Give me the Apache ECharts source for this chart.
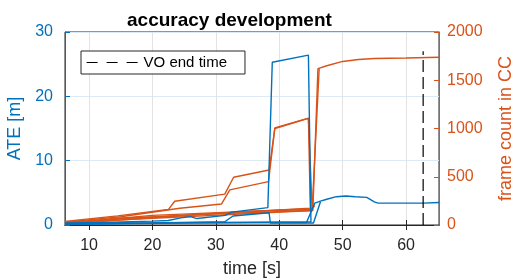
<!DOCTYPE html>
<html>
<head>
<meta charset="utf-8">
<title>accuracy development</title>
<script src="https://cdn.jsdelivr.net/npm/echarts@6/dist/echarts.min.js"></script>
<style>
  html, body { margin: 0; padding: 0; background: #fff; }
  #chart { width: 516px; height: 278px; }
</style>
</head>
<body>
<div id="chart"></div>
<script>
// time axis ticks
var timeTicks = [10, 20, 30, 40, 50, 60];
var voEndTime = 62.7;
var voLine = [[voEndTime, 0], [voEndTime, 1800]];

// ATE [m], several runs (data is unsorted, so lines jump back to the start)
var ateRunA = [[6.2,0.3],[12,0.4],[20,0.6],[22.5,0.7],[24.5,1.1],[26,1.3],[27,1.0],[31.5,1.5],[32.5,2.0],[38.2,2.7],[38.9,25.3],[44.6,26.4],[45.0,0.5],[6.2,0.2]];
var ateRunB = [[6.2,0.1],[25,0.3],[44.3,0.4],[45.6,3.4],[46.5,3.7],[47.5,4.0],[49,4.4],[50.5,4.5],[52,4.4],[53.8,4.3],[55,3.6],[55.6,3.4],[62.7,3.4],[65.2,3.5]];
var ateRunC = [[6.2,0.1],[31.4,0.5],[32.7,1.4],[38.4,1.9],[38.6,0.3],[45.4,0.3],[46.5,3.6]];

// frame count in CC, several runs
var frameRunA = [[6.2,38],[14.5,95],[22.5,160],[23.5,246],[31.4,320],[32.8,495],[38.4,570],[39.3,1005],[44.6,1108],[44.9,175],[6.2,30]];
var frameRunB = [[6.2,30],[15,85],[24.3,173],[30.9,218],[32.2,364],[38.3,450],[39.3,1000],[44.6,1105],[45.2,150],[6.2,25]];
var frameRunC = [[6.2,20],[15,70],[30,115],[45.3,150],[46.1,1620],[47.5,1650],[50,1695],[52.5,1715],[55,1725],[60,1730],[65.2,1738]];
var frameRunD = [[6.2,20],[20,100],[45.2,170],[46.3,1625]];
var frameRunE = [[6.2,12],[33.8,138],[45,160],[45.6,200]];

var blue = '#0072BD';
var orange = '#D95319';
var dark = '#262626';

var myChart = echarts.init(document.getElementById('chart'));

function run(data, color, axis) {
    return {
        type: 'line',
        yAxisIndex: axis,
        data: data,
        symbol: 'none',
        lineStyle: { color: color, width: 1.4 },
        silent: true
    };
}

var option = {
    animation: false,
    title: {
        text: 'accuracy development',
        left: 122,
        top: 6,
        textStyle: { fontFamily: 'Liberation Sans', fontSize: 19, fontWeight: 'bold', color: '#000' }
    },
    legend: {
        data: ['VO end time'],
        left: 81,
        top: 51,
        padding: [4, 18, 4, 5],
        itemWidth: 52,
        itemHeight: 14,
        borderColor: dark,
        borderWidth: 1,
        backgroundColor: '#fff',
        itemStyle: { opacity: 0 },
        lineStyle: { type: [11, 9], width: 1.2 },
        textStyle: { fontFamily: 'Liberation Sans', fontSize: 15, color: '#000' }
    },
    grid: {
        left: 65, right: 77, top: 32, bottom: 53,
        outerBoundsMode: 'none',
        show: true, borderColor: dark, borderWidth: 1
    },
    xAxis: [{
        type: 'value',
        min: 6.2, max: 65.2,
        name: 'time [s]',
        nameLocation: 'middle',
        nameGap: 35,
        nameTextStyle: { fontFamily: 'Liberation Sans', fontSize: 18, color: dark },
        axisLine: { lineStyle: { color: dark } },
        axisTick: { inside: true, length: 5, customValues: timeTicks, lineStyle: { color: dark } },
        axisLabel: { customValues: timeTicks, margin: 13, fontFamily: 'Liberation Sans', fontSize: 16, color: dark },
        splitLine: { show: true, lineStyle: { color: '#e3e3e3', width: 1 } }
    }, {
        type: 'value',
        position: 'top',
        min: 6.2, max: 65.2,
        axisLine: { lineStyle: { color: dark } },
        axisTick: { inside: true, length: 5, customValues: timeTicks, lineStyle: { color: dark } },
        axisLabel: { show: false },
        splitLine: { show: false }
    }],
    yAxis: [{
        type: 'value',
        min: 0, max: 30, interval: 10,
        name: 'ATE [m]',
        nameLocation: 'middle',
        nameGap: 32,
        nameTextStyle: { fontFamily: 'Liberation Sans', fontSize: 18, color: blue },
        axisLine: { show: true, lineStyle: { color: blue } },
        axisTick: { show: true, inside: true, length: 5, lineStyle: { color: blue } },
        axisLabel: { margin: 12, fontFamily: 'Liberation Sans', fontSize: 16, color: blue },
        splitLine: { show: true, lineStyle: { color: '#dde9f4', width: 1 } }
    }, {
        type: 'value',
        min: 0, max: 2000, interval: 500,
        name: 'frame count in CC',
        nameLocation: 'middle',
        nameGap: 58,
        nameTextStyle: { fontFamily: 'Liberation Sans', fontSize: 18, color: orange },
        axisLine: { show: true, lineStyle: { color: orange } },
        axisTick: { show: true, inside: true, length: 5, lineStyle: { color: orange } },
        axisLabel: {
            margin: 8, fontFamily: 'Liberation Sans', fontSize: 16, color: orange,
            formatter: function (v) { return String(v); }
        },
        splitLine: { show: false }
    }],
    series: [
        run(frameRunE, orange, 1),
        run(frameRunD, orange, 1),
        run(frameRunB, orange, 1),
        run(frameRunA, orange, 1),
        run(frameRunC, orange, 1),
        run(ateRunC, blue, 0),
        run(ateRunA, blue, 0),
        run(ateRunB, blue, 0),
        {
            name: 'VO end time',
            type: 'line',
            yAxisIndex: 1,
            data: voLine,
            symbol: 'none',
            color: '#000',
            lineStyle: { color: '#000', width: 1.2, type: [12, 5] },
            silent: true
        }
    ]
};
myChart.setOption(option);
</script>
</body>
</html>
